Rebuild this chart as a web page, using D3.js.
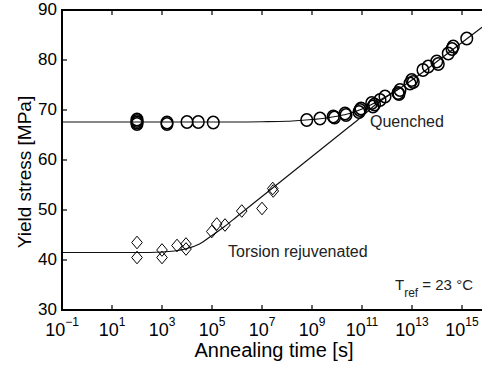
<!DOCTYPE html>
<html><head><meta charset="utf-8">
<script src="https://cdn.jsdelivr.net/npm/d3@7"></script>
<style>
html,body{margin:0;padding:0;background:#fff;}
svg{display:block;font-family:"Liberation Sans",Arial,Helvetica,sans-serif;}
</style></head>
<body>
<svg id="chart" width="482" height="366"></svg>
<script>
// exponents of annealing time [s] (log10 t) and yield stress [MPa]
const quenchedLogT = [2,2,2,2,3.2,3.2,4.0,4.45,5.05,
  8.79,9.32,9.85,9.9,10.32,10.36,10.88,10.92,10.96,11.39,11.44,11.5,11.72,11.92,12.44,12.52,12.48,12.92,12.99,13.05,13.44,13.65,13.99,14.05,14.45,14.65,14.6,15.19];
const quenchedY = [67.2,67.5,67.8,68.1,67.2,67.5,67.6,67.6,67.5,
  68.0,68.3,68.7,68.5,69.3,69.0,69.6,70.0,70.3,71.4,70.7,71.1,72.0,72.7,73.4,74.0,73.2,75.3,76.0,75.6,78.0,78.7,79.7,79.2,81.3,82.7,82.2,84.3];
const torsionLogT = [2,2,3,3,3.6,3.96,3.96,4.99,5.19,5.52,6.19,7.0,7.43,7.45];
const torsionY = [43.5,40.5,42.0,40.5,42.9,43.2,42.2,45.7,47.2,47.0,49.8,50.3,54.3,53.8];
// fitted curves
const quenchedFitLogT = [-1,6,7,8,8.5,9,9.5,10,10.5,11,11.5,12,12.5,13,13.5,14,14.5,15,15.5,16];
const quenchedFitY = [67.6,67.6,67.65,67.75,67.9,68.1,68.35,68.75,69.3,70.2,71.4,72.8,74.3,76.0,77.8,79.7,81.6,83.5,85.4,87.3];
const torsionFitLogT = [-1,2,3,3.5,4,4.5,5,5.5,6,6.5,7,7.5,8,9,10,10.5,11,11.5,12,12.5];
const torsionFitY = [41.5,41.5,41.6,41.8,42.3,43.2,44.9,46.7,48.7,50.7,52.7,54.7,56.7,60.7,64.7,66.7,68.7,70.9,72.7,74.3];
const xTickExps = [-1,1,3,5,7,9,11,13,15];
const yTicks = [30,40,50,60,70,80,90];
const labels = {x:"Annealing time [s]", y:"Yield stress [MPa]", quenched:"Quenched", torsion:"Torsion rejuvenated"};

const svg = d3.select("#chart");
const L=62, R=487, T=10, B=310;
const x = d3.scaleLog().domain([1e-1,1e16]).range([L,R]);
const y = d3.scaleLinear().domain([30,90]).range([B,T]);
const xt = e => x(Math.pow(10,e));

svg.append("defs").append("clipPath").attr("id","clip")
  .append("rect").attr("x",L).attr("y",T).attr("width",R-L).attr("height",B-T);
const plot = svg.append("g").attr("clip-path","url(#clip)");

const line = d3.line().x(d=>xt(d[0])).y(d=>y(d[1])).curve(d3.curveMonotoneX);
plot.append("path").datum(quenchedFitLogT.map((e,i)=>[e,quenchedFitY[i]]))
  .attr("d",line).attr("fill","none").attr("stroke","#111").attr("stroke-width",1.2);
plot.append("path").datum(torsionFitLogT.map((e,i)=>[e,torsionFitY[i]]))
  .attr("d",line).attr("fill","none").attr("stroke","#111").attr("stroke-width",1.2);

plot.selectAll("ellipse.q").data(quenchedLogT.map((e,i)=>[e,quenchedY[i]])).enter()
  .append("ellipse").attr("cx",d=>xt(d[0])).attr("cy",d=>y(d[1]))
  .attr("rx",5.8).attr("ry",6.2).attr("fill","none").attr("stroke","#000").attr("stroke-width",1.5);

plot.selectAll("path.t").data(torsionLogT.map((e,i)=>[e,torsionY[i]])).enter()
  .append("path").attr("d",d=>{const cx=xt(d[0]),cy=y(d[1]),w=5.3,h=6.3;
    return `M${cx},${cy-h}L${cx+w},${cy}L${cx},${cy+h}L${cx-w},${cy}Z`;})
  .attr("fill","none").attr("stroke","#000").attr("stroke-width",1);

// axes
const ax = svg.append("g").attr("stroke","#000");
ax.append("line").attr("x1",L).attr("x2",R).attr("y1",T).attr("y2",T).attr("stroke-width",2);
ax.append("line").attr("x1",L).attr("x2",R).attr("y1",B).attr("y2",B).attr("stroke-width",2);
ax.append("line").attr("x1",L).attr("x2",L).attr("y1",T-1).attr("y2",B+1).attr("stroke-width",2);
xTickExps.forEach(e=>{
  ax.append("line").attr("x1",xt(e)).attr("x2",xt(e)).attr("y1",B).attr("y2",B-5).attr("stroke-width",1.2);
  ax.append("line").attr("x1",xt(e)).attr("x2",xt(e)).attr("y1",T).attr("y2",T+5).attr("stroke-width",1.2);
});
yTicks.forEach(v=>{
  ax.append("line").attr("x1",L).attr("x2",L+5).attr("y1",y(v)).attr("y2",y(v)).attr("stroke-width",1.2);
});

const tg = svg.append("g").attr("fill","#000");
yTicks.forEach(v=>{
  tg.append("text").attr("x",57).attr("y",y(v)).attr("dy","0.31em").attr("text-anchor","end")
    .attr("font-size",17).text(v);
});
xTickExps.forEach(e=>{
  const t = tg.append("text").attr("x",xt(e)).attr("y",335.5).attr("text-anchor","middle").attr("font-size",18);
  t.append("tspan").text("10");
  t.append("tspan").attr("dy",-10).attr("font-size",12).text(e<0?"\u2212"+(-e):String(e));
});
tg.append("text").attr("x",274).attr("y",357).attr("text-anchor","middle").attr("font-size",20).text(labels.x);
tg.append("text").attr("transform","translate(31,172) rotate(-90)").attr("text-anchor","middle").attr("font-size",19).text(labels.y);

const ann = svg.append("g").attr("fill","#222").attr("font-size",16);
ann.append("text").attr("x",370).attr("y",127).text(labels.quenched);
ann.append("text").attr("x",228).attr("y",257).text(labels.torsion);
const tr = ann.append("text").attr("x",395).attr("y",290).attr("font-size",15);
tr.append("tspan").text("T");
tr.append("tspan").attr("dy",7).attr("font-size",12).text("ref");
tr.append("tspan").attr("dy",-7).text(" = 23 \u00B0C");
</script>
</body></html>
